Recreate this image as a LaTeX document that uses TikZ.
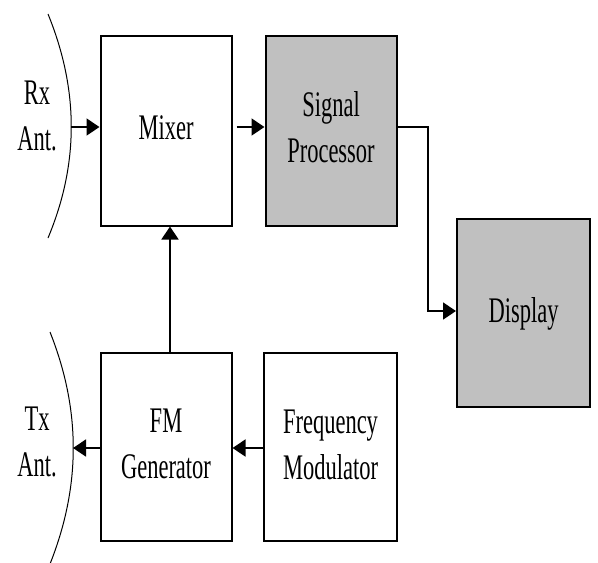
\documentclass[tikz,border=0pt]{standalone}
\usepackage{fontspec}
\setmainfont{Liberation Serif}
\usepackage{graphicx}
\usetikzlibrary{arrows.meta}
\definecolor{boxgray}{HTML}{C0C0C0}
\newcommand{\vtxt}[1]{\scalebox{1}[1.6]{\fontsize{22.5}{29}\selectfont\begin{tabular}{@{}c@{}}#1\end{tabular}}}
\tikzset{
  blk/.style={draw=black, line width=2pt, fill=white, inner sep=0pt, minimum width=131pt, minimum height=190pt},
  gblk/.style={blk, fill=boxgray},
  conn/.style={line width=1.5pt, -{Triangle[length=13pt,width=17pt]}},
  ant/.style={line width=1pt},
  lbl/.style={inner sep=0pt}
}
\begin{document}
\begin{tikzpicture}[x=1pt,y=-1pt]
\useasboundingbox (0,0) rectangle (598,563);
% blocks
\node[blk] (mixer) at (166,130.5) {\vtxt{Mixer}};
\node[gblk] (sp) at (331,130.5) {\vtxt{Signal\\Processor}};
\node[gblk, minimum width=133pt, minimum height=188pt] (dsp) at (523.5,313) {\vtxt{Display}};
\node[blk, minimum height=188pt] (fm) at (166,446.5) {\vtxt{FM\\Generator}};
\node[blk, minimum width=133pt, minimum height=188pt] (fqm) at (330.5,447) {\vtxt{Frequency\\Modulator}};
% antenna labels
\node[lbl] (rxl) at (37,118) {\vtxt{Rx\\Ant.}};
\node[lbl] (txl) at (37,444) {\vtxt{Tx\\Ant.}};
% antenna arcs
\coordinate (rx) at (71,127);
\coordinate (tx) at (73,448);
\draw[ant] (48,14) .. controls (79,90) and (79,164) .. (48,238);
\draw[ant] (50,332) .. controls (81,410) and (81,486) .. (50,564);
% helper coordinates
\coordinate (vx) at (170,0);
\coordinate (d1) at (428,311);
% connectors
\draw[conn] (rx) -- (rx -| mixer.west);
\draw[conn] ([xshift=4pt]mixer.east |- rx) -- (sp.west |- rx);
\draw[conn] (sp.east |- rx) -| (d1) -- (d1 -| dsp.west);
\draw[conn] (fm.north -| vx) -- (mixer.south -| vx);
\draw[conn] (fqm.west |- tx) -- (fm.east |- tx);
\draw[conn] (fm.west |- tx) -- (tx);
\end{tikzpicture}
\end{document}
